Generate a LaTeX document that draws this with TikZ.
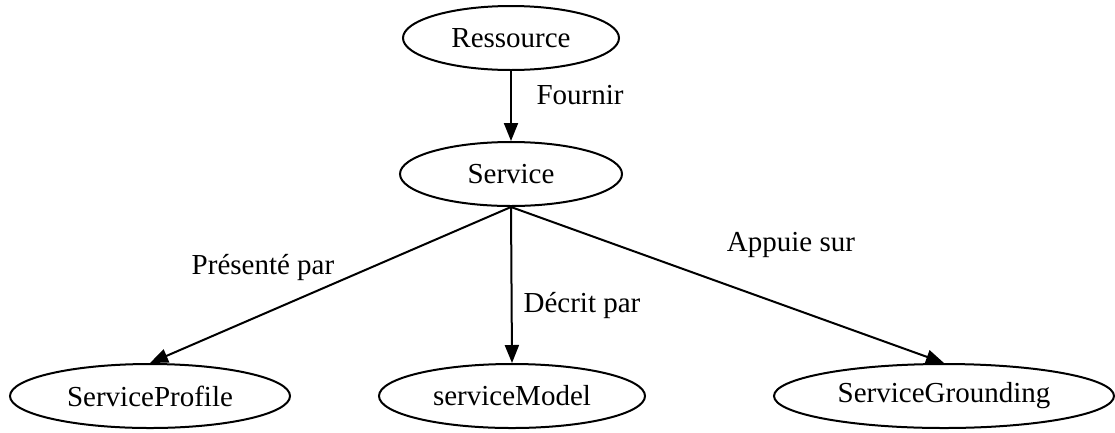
\documentclass[tikz,border=0pt]{standalone}
\usepackage{fontspec}
\setmainfont{Liberation Serif}
\usetikzlibrary{shapes.geometric,arrows.meta}
\begin{document}
\begin{tikzpicture}[x=1pt,y=-1pt,
  ent/.style={ellipse, draw, line width=2pt, minimum height=64pt, inner sep=0pt,
              font=\fontsize{29}{34}\selectfont},
  rel/.style={line width=2pt, -{Triangle[length=18pt,width=14pt]}},
  lbl/.style={font=\fontsize{29}{34}\selectfont, inner sep=0pt}]
\useasboundingbox (0,0) rectangle (1115,432);
% concepts
\node[ent, minimum width=216pt] (res)   at (511,38)  {Ressource};
\node[ent, minimum width=222pt] (srv)   at (511,174) {Service};
\node[ent, minimum width=280pt] (prof)  at (150,396) {ServiceProfile};
\node[ent, minimum width=266pt] (model) at (512,396) {serviceModel};
\node[ent, minimum width=340pt] (grnd)  at (944,396) {ServiceGrounding};
% relations
\draw[rel] (res) -- (srv);
\draw[rel] (srv.south) -- (prof.north);
\draw[rel] (srv.south) -- (model.north);
\draw[rel] (srv.south) -- (grnd.north);
% relation labels
\node[lbl] (lf) at (580,95)  {Fournir};
\node[lbl] (lp) at (263,267) {Présenté par};
\node[lbl] (ld) at (582,305) {Décrit par};
\node[lbl] (la) at (791,245) {Appuie sur};
\end{tikzpicture}
\end{document}
